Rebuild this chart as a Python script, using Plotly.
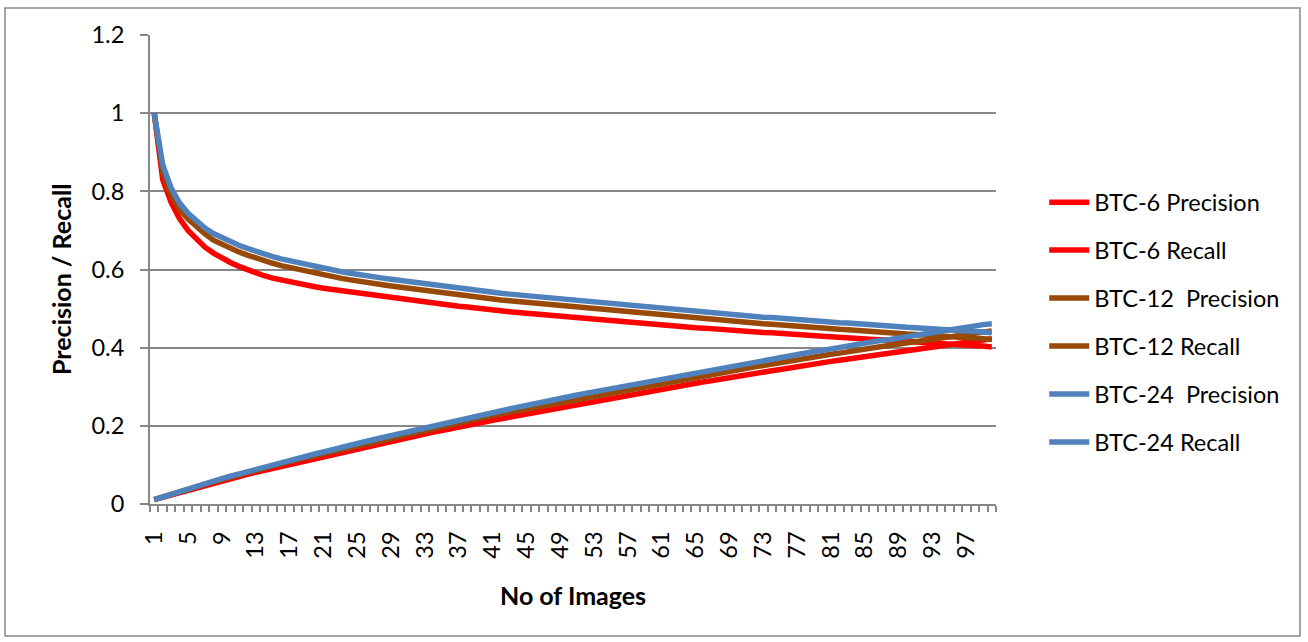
import plotly.graph_objects as go

images = list(range(1, 101))

btc6_precision = [
    1.000, 0.830, 0.772, 0.730, 0.700, 0.676, 0.657, 0.642, 0.629, 0.618,
    0.608, 0.599, 0.591, 0.584, 0.578, 0.573, 0.568, 0.564, 0.560, 0.556,
    0.552, 0.549, 0.546, 0.542, 0.539, 0.536, 0.533, 0.530, 0.527, 0.524,
    0.521, 0.519, 0.516, 0.514, 0.511, 0.509, 0.506, 0.504, 0.501, 0.499,
    0.497, 0.494, 0.492, 0.490, 0.488, 0.486, 0.484, 0.482, 0.480, 0.478,
    0.476, 0.474, 0.472, 0.470, 0.468, 0.467, 0.465, 0.463, 0.461, 0.460,
    0.458, 0.456, 0.455, 0.453, 0.451, 0.450, 0.448, 0.447, 0.445, 0.444,
    0.442, 0.441, 0.439, 0.438, 0.436, 0.435, 0.433, 0.432, 0.431, 0.429,
    0.428, 0.426, 0.425, 0.424, 0.422, 0.421, 0.420, 0.418, 0.417, 0.416,
    0.414, 0.413, 0.412, 0.410, 0.409, 0.408, 0.406, 0.405, 0.404, 0.402,
]
btc6_recall = [
    0.011, 0.017, 0.024, 0.031, 0.037, 0.043, 0.048, 0.054, 0.060, 0.065,
    0.070, 0.076, 0.081, 0.086, 0.091, 0.097, 0.102, 0.107, 0.112, 0.117,
    0.122, 0.127, 0.132, 0.137, 0.142, 0.147, 0.151, 0.156, 0.161, 0.165,
    0.170, 0.175, 0.179, 0.184, 0.188, 0.193, 0.197, 0.202, 0.206, 0.210,
    0.214, 0.218, 0.223, 0.227, 0.231, 0.235, 0.239, 0.244, 0.248, 0.252,
    0.256, 0.259, 0.263, 0.267, 0.271, 0.275, 0.279, 0.283, 0.286, 0.291,
    0.294, 0.298, 0.302, 0.305, 0.309, 0.313, 0.316, 0.320, 0.323, 0.327,
    0.330, 0.334, 0.337, 0.341, 0.344, 0.348, 0.351, 0.355, 0.358, 0.361,
    0.365, 0.368, 0.371, 0.375, 0.378, 0.381, 0.385, 0.387, 0.391, 0.394,
    0.397, 0.400, 0.403, 0.406, 0.409, 0.412, 0.415, 0.418, 0.421, 0.423,
]
btc12_precision = [
    1.000, 0.850, 0.790, 0.754, 0.729, 0.708, 0.691, 0.675, 0.664, 0.654,
    0.645, 0.637, 0.629, 0.622, 0.616, 0.610, 0.605, 0.600, 0.595, 0.590,
    0.586, 0.582, 0.578, 0.574, 0.570, 0.567, 0.564, 0.561, 0.558, 0.555,
    0.552, 0.549, 0.546, 0.543, 0.540, 0.538, 0.535, 0.532, 0.530, 0.527,
    0.525, 0.522, 0.520, 0.518, 0.515, 0.513, 0.511, 0.509, 0.506, 0.504,
    0.502, 0.500, 0.498, 0.496, 0.494, 0.492, 0.490, 0.488, 0.486, 0.484,
    0.482, 0.480, 0.478, 0.477, 0.475, 0.473, 0.471, 0.470, 0.468, 0.466,
    0.464, 0.463, 0.461, 0.460, 0.458, 0.456, 0.455, 0.453, 0.452, 0.450,
    0.449, 0.447, 0.446, 0.444, 0.443, 0.441, 0.440, 0.438, 0.437, 0.435,
    0.434, 0.433, 0.431, 0.430, 0.428, 0.427, 0.426, 0.424, 0.423, 0.421,
]
btc12_recall = [
    0.011, 0.018, 0.025, 0.032, 0.038, 0.045, 0.051, 0.057, 0.063, 0.069,
    0.075, 0.080, 0.086, 0.092, 0.097, 0.103, 0.108, 0.114, 0.119, 0.124,
    0.130, 0.135, 0.140, 0.145, 0.150, 0.155, 0.160, 0.165, 0.170, 0.175,
    0.180, 0.185, 0.190, 0.194, 0.199, 0.204, 0.208, 0.213, 0.218, 0.222,
    0.227, 0.231, 0.235, 0.240, 0.244, 0.248, 0.253, 0.257, 0.261, 0.265,
    0.269, 0.274, 0.278, 0.282, 0.286, 0.290, 0.294, 0.298, 0.302, 0.306,
    0.309, 0.313, 0.317, 0.321, 0.325, 0.329, 0.332, 0.336, 0.340, 0.343,
    0.347, 0.351, 0.354, 0.358, 0.362, 0.365, 0.369, 0.372, 0.376, 0.379,
    0.383, 0.386, 0.390, 0.393, 0.396, 0.399, 0.403, 0.406, 0.409, 0.412,
    0.416, 0.419, 0.422, 0.425, 0.428, 0.431, 0.435, 0.437, 0.441, 0.443,
]
btc24_precision = [
    1.000, 0.868, 0.808, 0.770, 0.744, 0.723, 0.706, 0.692, 0.681, 0.671,
    0.662, 0.654, 0.646, 0.639, 0.633, 0.627, 0.622, 0.617, 0.612, 0.607,
    0.603, 0.599, 0.595, 0.591, 0.587, 0.584, 0.581, 0.578, 0.575, 0.572,
    0.569, 0.566, 0.563, 0.560, 0.557, 0.555, 0.552, 0.549, 0.547, 0.544,
    0.542, 0.539, 0.537, 0.535, 0.532, 0.530, 0.528, 0.526, 0.523, 0.521,
    0.519, 0.517, 0.515, 0.513, 0.511, 0.509, 0.507, 0.505, 0.503, 0.501,
    0.499, 0.497, 0.495, 0.494, 0.492, 0.490, 0.488, 0.487, 0.485, 0.483,
    0.481, 0.480, 0.478, 0.477, 0.475, 0.473, 0.472, 0.470, 0.469, 0.467,
    0.466, 0.464, 0.463, 0.461, 0.460, 0.458, 0.457, 0.455, 0.454, 0.452,
    0.451, 0.450, 0.448, 0.447, 0.445, 0.444, 0.443, 0.441, 0.440, 0.438,
]
btc24_recall = [
    0.011, 0.018, 0.026, 0.032, 0.039, 0.046, 0.052, 0.058, 0.065, 0.071,
    0.077, 0.083, 0.088, 0.094, 0.100, 0.106, 0.111, 0.117, 0.122, 0.128,
    0.133, 0.139, 0.144, 0.149, 0.154, 0.160, 0.165, 0.170, 0.176, 0.181,
    0.186, 0.191, 0.196, 0.200, 0.205, 0.210, 0.215, 0.220, 0.225, 0.229,
    0.234, 0.238, 0.243, 0.248, 0.252, 0.257, 0.261, 0.266, 0.270, 0.274,
    0.279, 0.283, 0.287, 0.292, 0.296, 0.300, 0.304, 0.308, 0.312, 0.316,
    0.320, 0.324, 0.328, 0.333, 0.337, 0.340, 0.344, 0.349, 0.352, 0.356,
    0.359, 0.364, 0.367, 0.372, 0.375, 0.378, 0.383, 0.386, 0.390, 0.393,
    0.397, 0.401, 0.405, 0.408, 0.412, 0.415, 0.419, 0.421, 0.425, 0.428,
    0.432, 0.436, 0.439, 0.442, 0.445, 0.449, 0.452, 0.455, 0.459, 0.461,
]

series_names = [
    "BTC-6 Precision", "BTC-6 Recall",
    "BTC-12\u00a0 Precision", "BTC-12 Recall",
    "BTC-24\u00a0 Precision", "BTC-24 Recall",
]
series_values = [btc6_precision, btc6_recall, btc12_precision,
                 btc12_recall, btc24_precision, btc24_recall]
series_colors = ["#FF0000", "#FF0000", "#984807", "#984807", "#4F81BD", "#4F81BD"]

x_tick_values = list(range(1, 101, 4))
x_tick_labels = [str(v) for v in x_tick_values]
y_tick_values = [0, 0.2, 0.4, 0.6, 0.8, 1.0, 1.2]
y_tick_labels = ["0", "0.2", "0.4", "0.6", "0.8", "1", "1.2"]

FONT = "Lato, 'Open Sans', sans-serif"
FS = 23.5
GRID = "#878787"

fig = go.Figure()
for i, (name, vals, col) in enumerate(zip(series_names, series_values, series_colors)):
    fig.add_trace(go.Scatter(
        x=images, y=vals, name=name, mode="lines",
        line=dict(color=col, width=5.5),
        legendgroup=f"g{i}",
    ))

fig.update_layout(
    width=1308, height=642,
    margin=dict(l=150, r=312, t=35, b=138),
    paper_bgcolor="white", plot_bgcolor="white",
    font=dict(family=FONT, size=FS, color="black"),
    showlegend=True,
    legend=dict(
        x=1.057, xanchor="left", y=0.69, yanchor="top",
        font=dict(family=FONT, size=FS, color="black"),
        tracegroupgap=14.4, itemwidth=40, bgcolor="rgba(0,0,0,0)",
    ),
    xaxis=dict(
        range=[0.5, 100.5], tickmode="array", tickvals=x_tick_values,
        ticktext=x_tick_labels, tickangle=-90, ticks="",
        showgrid=False, zeroline=False, showline=True,
        linecolor=GRID, linewidth=2, ticklabelstandoff=16,
        tickfont=dict(family=FONT, size=FS),
        minor=dict(ticks="outside", tick0=0.5, dtick=1, ticklen=6,
                   tickcolor=GRID, tickwidth=1.5, showgrid=False),
    ),
    yaxis=dict(
        range=[0, 1.2], tickmode="array", tickvals=y_tick_values,
        ticktext=y_tick_labels, ticks="outside", ticklen=8,
        tickcolor=GRID, tickwidth=2, showgrid=True, gridcolor=GRID,
        gridwidth=2, zeroline=False, showline=True, linecolor=GRID,
        linewidth=2, ticklabelstandoff=11,
        tickfont=dict(family=FONT, size=FS),
    ),
    annotations=[
        dict(text="<b>Precision / Recall</b>", xref="paper", yref="paper",
             x=-0.105, y=0.478, xanchor="center", yanchor="middle",
             textangle=-90, showarrow=False,
             font=dict(family=FONT, size=25, color="black")),
        dict(text="<b>No of Images</b>", xref="paper", yref="paper",
             x=0.5, y=-0.194, xanchor="center", yanchor="middle",
             showarrow=False,
             font=dict(family=FONT, size=25, color="black")),
    ],
    shapes=[
        dict(type="rect", xref="paper", yref="paper",
             x0=-0.1714, x1=1.3593, y0=-0.2814, y1=1.0576,
             line=dict(color="#888888", width=1.5), fillcolor="rgba(0,0,0,0)"),
    ],
)

fig.write_html("out.html", config={"displayModeBar": False},
               post_script="document.body.style.margin='0px';document.body.style.overflow='hidden';")
